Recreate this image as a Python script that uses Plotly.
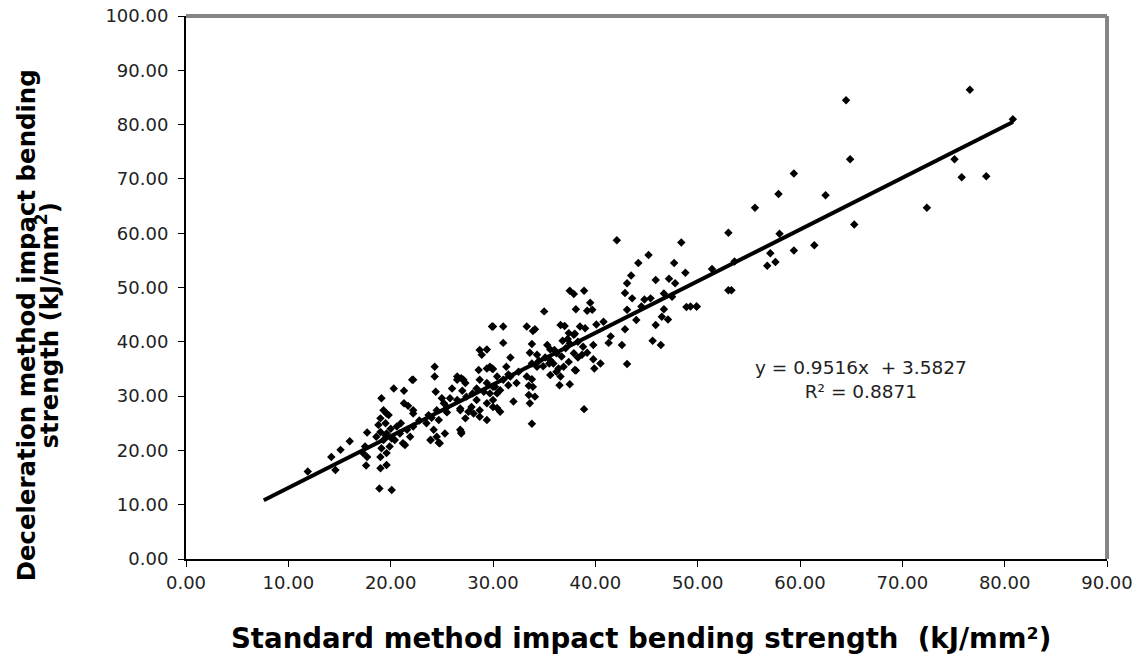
import plotly.graph_objects as go

# Scatter data (standard method x, deceleration method y)
x_std = [
    76.6, 64.5, 80.8, 64.9, 75.1, 75.8, 78.2, 59.4, 57.9, 62.5, 55.6, 72.4, 65.3, 53.0, 58.0,
    57.1, 59.4, 61.4, 56.8, 57.6, 51.4, 53.6, 53.0, 53.3, 49.9, 49.3,
    42.1, 48.4, 45.2, 44.2, 47.7, 43.5, 48.8, 45.9, 47.2, 43.1, 47.8,
    37.5, 37.9, 38.9, 42.9, 39.5, 43.6, 44.8, 45.4, 46.7, 47.5, 38.1, 39.2, 39.7, 35.0, 43.1,
    46.7, 48.9, 49.9, 46.5, 47.1, 40.8, 40.1, 30.0, 31.0, 33.3, 34.1, 33.9, 36.6, 37.0, 37.4,
    38.5, 37.9, 45.9, 42.9, 31.0, 33.8, 35.3, 35.6, 37.3, 37.5, 37.1, 38.3, 38.8, 39.8, 41.3,
    42.6, 45.6, 46.4, 33.6, 34.3, 35.1, 35.6, 36.2, 36.7, 37.9, 38.3, 38.7, 39.2, 31.7, 31.3,
    29.7, 30.0, 33.8, 34.3, 34.9, 35.9, 36.4, 36.9, 37.4, 38.0, 39.8, 39.9, 38.1, 43.1,
    30.4, 31.0, 31.7, 32.3, 30.2, 30.7, 31.5, 33.3, 33.8, 33.5, 33.9, 35.6, 36.2, 36.6, 36.5,
    37.5, 29.7, 30.4, 30.0, 32.0, 33.5, 34.1, 30.4, 30.7, 33.6, 38.9, 33.8,
    11.9, 14.2, 15.1, 14.6, 16.0, 17.7, 17.5, 17.3, 17.7, 17.6, 18.9, 20.1, 19.1, 19.0, 19.6,
    19.0, 19.6, 19.1, 18.6, 19.3, 19.0, 19.6, 20.1, 19.9, 19.0, 19.5, 18.8, 19.8, 19.3, 19.6,
    20.3, 21.3, 21.3, 21.7, 22.2, 22.2, 20.6, 21.6, 20.9, 20.4, 22.2, 21.9, 21.2, 21.4,
    23.5, 23.9, 24.5, 24.8, 24.2, 25.3, 24.7, 24.3, 24.3, 24.4, 25.0, 25.5, 26.0, 26.5, 26.9,
    27.3, 26.5, 27.4, 26.8, 27.9, 27.3, 26.8, 26.9, 28.7, 29.4, 28.9, 28.6, 29.4, 29.9, 28.7,
    29.4, 30.0, 28.4, 29.1, 28.4, 29.4, 28.7, 30.0, 28.1, 29.4, 28.7, 29.9,
    22.1, 22.2, 23.7, 24.5, 25.2, 25.8, 23.9, 24.7, 26.9, 26.8, 27.6, 26.5, 27.1,
    36.0, 36.8, 38.0, 39.0, 34.5, 35.5, 32.5, 31.5, 28.0, 27.0, 25.5, 24.0, 22.8, 21.0,
    20.0, 19.5, 40.5, 44.0, 44.5, 41.5,
]
y_dec = [
    86.4, 84.5, 81.0, 73.6, 73.6, 70.3, 70.5, 71.0, 67.2, 67.0, 64.7, 64.7, 61.6, 60.1, 59.9,
    56.3, 56.8, 57.8, 54.0, 54.7, 53.4, 54.8, 49.5, 49.5, 46.5, 46.5,
    58.7, 58.3, 56.0, 54.5, 54.5, 52.2, 52.7, 51.4, 51.6, 50.8, 50.8,
    49.4, 48.8, 49.4, 49.0, 47.2, 48.0, 47.8, 48.0, 48.9, 48.3, 46.0, 45.7, 45.9, 45.6, 45.9,
    46.0, 46.4, 46.5, 44.6, 44.1, 43.7, 43.2, 42.8, 42.8, 42.8, 42.3, 42.0, 43.1, 42.9, 41.6,
    42.8, 41.3, 43.1, 42.3, 39.8, 39.6, 39.4, 38.6, 40.5, 39.7, 38.8, 40.0, 39.1, 39.4, 39.8,
    39.4, 40.2, 39.4, 38.0, 37.6, 37.1, 36.6, 37.9, 37.3, 37.9, 37.1, 37.6, 38.0, 37.1, 35.4,
    35.4, 35.0, 36.0, 35.4, 35.5, 36.0, 35.1, 35.4, 36.3, 34.8, 36.8, 35.1, 34.7, 35.9,
    33.6, 33.0, 33.6, 32.4, 31.7, 31.1, 32.0, 33.6, 33.1, 31.9, 31.7, 33.9, 34.5, 33.6, 32.0,
    32.2, 30.5, 30.5, 29.3, 29.0, 30.2, 29.9, 27.8, 27.1, 28.7, 27.6, 24.9,
    16.1, 18.8, 20.1, 16.4, 21.7, 23.3, 20.7, 19.5, 18.8, 17.2, 13.0, 12.7, 29.6, 16.7, 17.3,
    18.8, 19.5, 20.4, 22.5, 21.9, 23.4, 23.1, 22.2, 20.7, 25.9, 25.0, 24.7, 26.5, 27.4, 26.8,
    31.4, 31.0, 28.7, 28.2, 33.0, 26.8, 24.4, 23.8, 23.1, 21.9, 24.4, 22.5, 21.3, 21.0,
    25.0, 21.9, 22.5, 21.3, 23.8, 23.1, 25.6, 35.4, 33.6, 30.8, 29.6, 28.0, 31.4, 33.0, 33.3,
    32.4, 29.3, 29.9, 27.4, 28.0, 25.9, 23.8, 23.1, 38.5, 38.6, 37.6, 34.8, 35.1, 35.1, 33.0,
    32.4, 31.7, 31.4, 30.8, 29.3, 28.7, 27.4, 28.0, 26.8, 25.6, 26.2, 42.8,
    33.0, 27.4, 26.5, 27.4, 28.7, 29.6, 21.9, 21.4, 23.4, 27.7, 27.1, 33.6, 33.0,
    38.5, 40.2, 41.5, 42.5, 36.5, 36.0, 34.5, 34.0, 30.5, 31.0, 27.0, 26.0, 25.5, 25.0,
    24.0, 22.8, 36.0, 44.0, 46.5, 41.0,
]

# Linear trendline (from the chart's equation)
slope = 0.9516
intercept = 3.5827
r_squared = 0.8871
trend_x = [7.6, 80.8]
trend_y = [slope * v + intercept for v in trend_x]

x_ticks = [0, 10, 20, 30, 40, 50, 60, 70, 80, 90]
y_ticks = [0, 10, 20, 30, 40, 50, 60, 70, 80, 90, 100]

FONT = "DejaVu Sans, Liberation Sans, Arial, sans-serif"
TICK_COLOR = "#222222"

fig = go.Figure()
fig.add_trace(go.Scatter(
    x=x_std, y=y_dec, mode="markers",
    marker=dict(symbol="diamond", size=6.5, color="black", line=dict(width=0)),
    showlegend=False, hoverinfo="x+y",
))
fig.add_trace(go.Scatter(
    x=trend_x, y=trend_y, mode="lines",
    line=dict(color="black", width=4),
    showlegend=False, hoverinfo="skip",
))

fig.update_layout(
    width=1140, height=664,
    margin=dict(l=186, r=33, t=16, b=105),
    paper_bgcolor="white", plot_bgcolor="white",
    font=dict(family=FONT, size=18, color=TICK_COLOR),
    xaxis=dict(
        range=[0, 90], tickvals=x_ticks, tickformat=".2f",
        showgrid=False, zeroline=False, showline=True, linecolor="black", linewidth=2,
        ticks="outside", ticklen=6, tickcolor="black", tickwidth=1,
        tickfont=dict(family=FONT, size=18, color=TICK_COLOR), automargin=False,
        ticklabeloverflow="allow",
    ),
    yaxis=dict(
        range=[0, 100], tickvals=y_ticks, tickformat=".2f",
        showgrid=False, zeroline=False, showline=True, linecolor="black", linewidth=2,
        ticks="outside", ticklen=6, tickcolor="black", tickwidth=1,
        tickfont=dict(family=FONT, size=18, color=TICK_COLOR), automargin=False,
        ticklabeloverflow="allow", ticklabelstandoff=6,
    ),
    shapes=[
        dict(type="line", xref="paper", yref="paper", x0=0, x1=1, y0=1, y1=1,
             line=dict(color="#858585", width=4)),
        dict(type="line", xref="paper", yref="paper", x0=1, x1=1, y0=0, y1=1,
             line=dict(color="#858585", width=4)),
    ],
    annotations=[
        dict(text=f"y = {slope}x  + {intercept}<br>R² = {r_squared}",
             x=66.0, y=33.1, xref="x", yref="y", showarrow=False,
             align="center", font=dict(family=FONT, size=18.5, color=TICK_COLOR)),
        dict(text="<b>Standard method impact bending strength  (kJ/mm²)</b>",
             x=0.494, y=-0.147, xref="paper", yref="paper", xanchor="center", yanchor="middle",
             showarrow=False, font=dict(family=FONT, size=27.6, color="black")),
        dict(text="<b>Deceleration method impact bending</b>",
             x=-0.173, y=0.43, xref="paper", yref="paper", xanchor="center", yanchor="middle",
             textangle=-90, showarrow=False,
             font=dict(family=FONT, size=24.4, color="black")),
        dict(text="<b>strength (kJ/mm<sup>2</sup>)</b>",
             x=-0.151, y=0.43, xref="paper", yref="paper", xanchor="center", yanchor="middle",
             textangle=-90, showarrow=False,
             font=dict(family=FONT, size=24.4, color="black")),
    ],
)

# remove the default page margin so the figure sits at the window's top-left corner
fig.write_html("out.html", config={"displayModeBar": False},
               post_script="document.body.style.margin='0px';")
